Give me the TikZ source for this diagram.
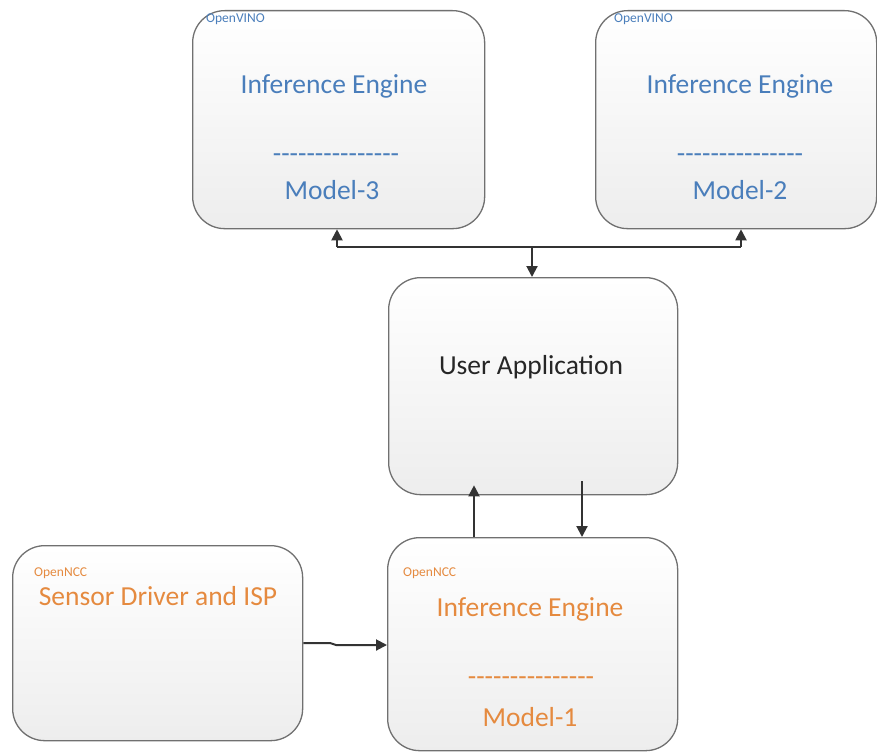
\documentclass[tikz,border=0pt]{standalone}
\usepackage{fontspec}
\setmainfont{Carlito}
\newfontfamily\dashfont{Carlito}[Ligatures=TeXOff]
\usetikzlibrary{arrows.meta}
\definecolor{ovblue}{HTML}{4A7EBB}
\definecolor{ncorange}{HTML}{E58A3F}
\definecolor{darktext}{HTML}{262626}
\definecolor{boxline}{HTML}{707070}
\definecolor{arrowgray}{HTML}{333333}
\tikzset{
  box/.style={draw=boxline, line width=1.3pt, rounded corners=32pt,
    top color=white, bottom color=black!7, anchor=north west,
    inner sep=0pt, minimum width=#1},
  box/.default=290pt,
  bigtxt/.style={font=\fontsize{27.5}{33}\selectfont, inner sep=0pt, anchor=base},
  dashtxt/.style={font=\dashfont\fontsize{27.5}{33}\selectfont, inner sep=0pt, anchor=base},
  smalltxt/.style={font=\fontsize{13.5}{16}\selectfont, inner sep=0pt, anchor=base west},
  arr/.style={draw=arrowgray, line width=2pt, -{Triangle[length=11pt,width=11pt]}},
  lin/.style={draw=arrowgray, line width=2pt},
}
\begin{document}
\begin{tikzpicture}[x=1pt,y=-1pt]
\useasboundingbox (0,0) rectangle (877,752);
% boxes
\node[box=292pt, minimum height=218pt] (tl) at (192,10) {};
\node[box=281pt, minimum height=218pt] (tr) at (595,10) {};
\node[box=289pt, minimum height=217pt] (ua) at (388,277) {};
\node[box=290pt, minimum height=213pt] (m1) at (387,537) {};
\node[box=290pt, minimum height=195pt] (sd) at (12,545) {};
% top-left texts
\node[smalltxt, text=ovblue] (tll) at (206,23) {OpenVINO};
\node[bigtxt, text=ovblue] (tle) at (334,93) {Inference Engine};
\node[dashtxt, text=ovblue] (tld) at (336,162) {---------------};
\node[bigtxt, text=ovblue] (tlm) at (332,199) {Model-3};
% top-right texts
\node[smalltxt, text=ovblue] (trl) at (614,23) {OpenVINO};
\node[bigtxt, text=ovblue] (tre) at (740,93) {Inference Engine};
\node[dashtxt, text=ovblue] (trd) at (740,162) {---------------};
\node[bigtxt, text=ovblue] (trm) at (740,199) {Model-2};
% user application
\node[bigtxt, text=darktext] (uat) at (531,374) {User Application};
% model-1 texts
\node[smalltxt, text=ncorange] (m1l) at (403,576) {OpenNCC};
\node[bigtxt, text=ncorange] (m1e) at (530,616) {Inference Engine};
\node[dashtxt, text=ncorange] (m1d) at (531,685) {---------------};
\node[bigtxt, text=ncorange] (m1m) at (530,726) {Model-1};
% sensor texts
\node[smalltxt, text=ncorange] (sdl) at (34,576) {OpenNCC};
\node[bigtxt, text=ncorange] (sdt) at (158,605) {Sensor Driver and ISP};
% connectors
\coordinate (jl) at (337,247);
\coordinate (jr) at (741,247);
\coordinate (jm) at (532,247);
\draw[lin] (jl) -- (jr);
\draw[arr] (jl) -- (jl |- tl.south);
\draw[arr] (jr) -- (jr |- tr.south);
\draw[arr] (jm) -- (jm |- ua.north);
\coordinate (ux) at (474,0);
\coordinate (dx) at (582,0);
\draw[arr, shorten >=-10pt] (ux |- m1.north) -- (ux |- ua.south);
\draw[arr, shorten <=-14pt] (dx |- ua.south) -- (dx |- m1.north);
\coordinate (s1) at (330,643);
\coordinate (s2) at (336,645);
\draw[arr] (sd.east |- s1) -- (s1) -- (s2) -- (m1.west |- s2);
\end{tikzpicture}
\end{document}
